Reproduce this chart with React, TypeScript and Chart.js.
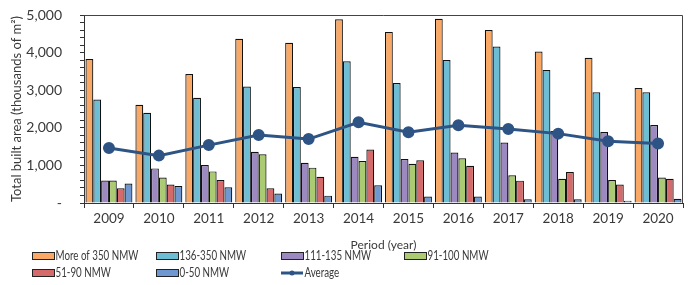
import React, { useEffect, useRef } from "react";
import { Chart, registerables } from "chart.js";

Chart.register(...registerables);

const years = ["2009", "2010", "2011", "2012", "2013", "2014", "2015", "2016", "2017", "2018", "2019", "2020"];
const more350 = [3830, 2610, 3430, 4370, 4260, 4885, 4550, 4900, 4600, 4030, 3865, 3060];
const r136_350 = [2750, 2400, 2800, 3100, 3085, 3770, 3190, 3800, 4160, 3540, 2945, 2945];
const r111_135 = [600, 920, 1010, 1365, 1070, 1230, 1170, 1340, 1610, 1915, 1890, 2075];
const r91_100 = [600, 680, 840, 1295, 940, 1115, 1045, 1190, 735, 645, 610, 680];
const r51_90 = [390, 490, 610, 390, 700, 1420, 1135, 990, 595, 825, 490, 645];
const r0_50 = [520, 450, 420, 250, 195, 470, 170, 170, 100, 100, 60, 115];
const average = [1460, 1260, 1540, 1810, 1700, 2145, 1880, 2070, 1970, 1845, 1640, 1580];

const seriesNames = ["More of 350 NMW", "136-350 NMW", "111-135 NMW", "91-100 NMW", "51-90 NMW", "0-50 NMW", "Average"];
const barColors = ["#F9A865", "#6DBDD5", "#9C89C0", "#ABCB72", "#D46A6A", "#6E98CF"];
const lineColor = "#2D5484";
const FONT = "Lato";
const TEXT = "#3a3a3a";

const legendPlugin = {
  id: "gridLegend",
  afterDraw(chart: any) {
    const ctx = chart.ctx;
    const cols = [32, 156, 281, 404];
    const rows = [256, 273];
    ctx.save();
    ctx.font = `12.5px ${FONT}`;
    ctx.textBaseline = "middle";
    ctx.textAlign = "left";
    seriesNames.forEach((name, i) => {
      const x = cols[i % 4];
      const y = rows[Math.floor(i / 4)];
      if (i < 6) {
        ctx.fillStyle = barColors[i];
        ctx.fillRect(x, y - 3.5, 22, 7);
        ctx.strokeStyle = "#222";
        ctx.lineWidth = 1;
        ctx.strokeRect(x + 0.5, y - 3.5, 22, 7);
      } else {
        ctx.strokeStyle = lineColor;
        ctx.lineWidth = 3;
        ctx.beginPath();
        ctx.moveTo(x, y);
        ctx.lineTo(x + 22, y);
        ctx.stroke();
        ctx.fillStyle = lineColor;
        ctx.beginPath();
        ctx.arc(x + 11, y, 2.5, 0, Math.PI * 2);
        ctx.fill();
      }
      ctx.fillStyle = TEXT;
      ctx.save();
      ctx.translate(x + 23.5, y);
      ctx.scale(0.78, 1);
      ctx.fillText(name, 0, 0);
      ctx.restore();
    });
    ctx.restore();
  },
};

const framePlugin = {
  id: "frame",
  afterDatasetsDraw(chart: any) {
    const { ctx, chartArea } = chart;
    ctx.save();
    ctx.strokeStyle = "#444";
    ctx.lineWidth = 1;
    ctx.beginPath();
    ctx.moveTo(chartArea.left, chartArea.top + 0.5);
    ctx.lineTo(chartArea.right - 0.5, chartArea.top + 0.5);
    ctx.lineTo(chartArea.right - 0.5, chartArea.bottom);
    ctx.stroke();
    ctx.restore();
  },
};

export default function App() {
  const ref = useRef<HTMLCanvasElement>(null);
  useEffect(() => {
    const barSets = [more350, r136_350, r111_135, r91_100, r51_90, r0_50].map((d, i) => ({
      type: "bar" as const,
      label: seriesNames[i],
      data: d,
      backgroundColor: barColors[i],
      borderColor: "#111",
      borderWidth: 1.2,
      borderSkipped: "bottom",
      order: 1,
      categoryPercentage: 0.94,
      barPercentage: 1,
    }));
    const chart = new Chart(ref.current!, {
      type: "bar",
      data: {
        labels: years,
        datasets: [
          ...barSets,
          {
            type: "line" as const,
            label: seriesNames[6],
            data: average,
            borderColor: lineColor,
            backgroundColor: lineColor,
            borderWidth: 3,
            pointRadius: 4.5,
            pointBackgroundColor: lineColor,
            tension: 0,
            order: 0,
          } as any,
        ],
      },
      options: {
        animation: false,
        responsive: false,
        maintainAspectRatio: false,
        layout: { padding: { left: 0, top: 15, right: 14, bottom: 32 } },
        plugins: { legend: { display: false }, tooltip: { enabled: false } },
        scales: {
          x: {
            grid: { display: true, drawOnChartArea: false, drawTicks: true, tickLength: 5, color: "#333", offset: true },
            border: { display: true, color: "#333", width: 1 },
            ticks: { font: { family: FONT, size: 13.5 }, color: TEXT, padding: 3, maxRotation: 0 },
            title: { display: true, text: "Period (year)", font: { family: FONT, size: 12 }, color: TEXT, padding: { top: 2, bottom: 1 } },
            afterFit(scale: any) { scale.height = 50; scale.paddingLeft = 0; scale.paddingRight = 0; },
          },
          y: {
            min: 0,
            max: 5000,
            grid: { display: true, drawOnChartArea: false, drawTicks: true, tickLength: 4, color: "#333" },
            border: { display: true, color: "#333", width: 1 },
            ticks: {
              stepSize: 200,
              autoSkip: false,
              font: { family: FONT, size: 14 },
              color: TEXT,
              padding: 18,
              callback: (v: any) => {
                const n = Number(v);
                if (n === 0) return "-";
                if (n % 1000 !== 0) return "";
                return n.toLocaleString("en-US");
              },
            },
            title: { display: true, text: "Total built area (thousands of m²)", font: { family: FONT, size: 13 }, color: TEXT, padding: { top: 9, bottom: 0 } },
            afterFit(scale: any) { scale.width = 84; scale.paddingTop = 0; scale.paddingBottom = 0; },
          },
        },
      },
      plugins: [framePlugin, legendPlugin],
    });
    return () => chart.destroy();
  }, []);
  return (
    <div style={{ position: "fixed", left: 0, top: 0, width: 697, height: 285, background: "#fff" }}>
      <canvas ref={ref} width={697} height={285} style={{ width: 697, height: 285 }} />
    </div>
  );
}
